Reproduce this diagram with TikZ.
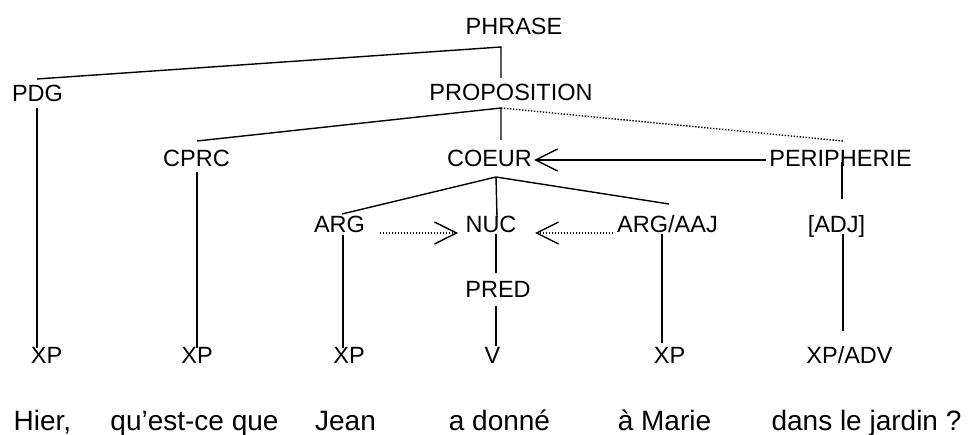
\documentclass[tikz,border=0pt]{standalone}
\usepackage{fontspec}
\setmainfont{Liberation Sans}
\usetikzlibrary{arrows.meta}
\tikzset{
  lab/.style={anchor=base, inner sep=0pt, outer sep=0pt, font=\fontsize{23.5}{28}\selectfont},
  word/.style={anchor=base, inner sep=0pt, outer sep=0pt, font=\fontsize{28}{34}\selectfont},
  branch/.style={line width=1.4pt},
  stem/.style={line width=1.3pt},
  dots/.style={line width=1.4pt, dash pattern=on 1.4pt off 1.6pt},
  barb/.style={-{Straight Barb[length=22pt,width=22pt]}},
}
\begin{document}
\begin{tikzpicture}[x=1pt,y=-1pt]
\useasboundingbox (0,0) rectangle (969,435);
% labels
\node[lab] (phrase) at (514,35) {PHRASE};
\node[lab] (pdg) at (37.5,102) {PDG};
\node[lab] (prop) at (511,101) {PROPOSITION};
\node[lab] (cprc) at (196.5,167) {CPRC};
\node[lab] (coeur) at (489.5,167) {COEUR};
\node[lab] (peri) at (840.5,167) {PERIPHERIE};
\node[lab] (arg) at (339.5,233) {ARG};
\node[lab] (nuc) at (491,233) {NUC};
\node[lab] (argaaj) at (667.5,233) {ARG/AAJ};
\node[lab] (adj) at (836.5,233) {[ADJ]};
\node[lab] (pred) at (498,298) {PRED};
\node[lab] (xpa) at (46.5,364) {XP};
\node[lab] (xpb) at (197,364) {XP};
\node[lab] (xpc) at (349,364) {XP};
\node[lab] (v) at (492.5,364) {V};
\node[lab] (xpd) at (669.5,364) {XP};
\node[lab] (xpadv) at (849.5,364) {XP/ADV};
% words
\node[word] (w1) at (42.5,430) {Hier,};
\node[word] (w2) at (194.5,430) {qu’est-ce que};
\node[word] (w3) at (345.5,430) {Jean};
\node[word] (w4) at (499.5,430) {a donné};
\node[word] (w5) at (664.5,430) {à Marie};
\node[word] (w6) at (866.5,430) {dans le jardin ?};
% junction coordinates
\coordinate (jphrase) at (501,47);
\coordinate (pdgtop) at (37,79);
\coordinate (proptop) at (501,78);
\coordinate (jprop) at (501,108);
\coordinate (cprctop) at (197,141);
\coordinate (coeurtop) at (501,140);
\coordinate (peritop) at (843,141);
\coordinate (jcoeur) at (496,177);
\coordinate (argtop) at (342,214);
\coordinate (nuctop) at (497,217);
\coordinate (argaajtop) at (669,204);
\coordinate (pdgbot) at (37,108);
\coordinate (xpatop) at (37,348);
\coordinate (cprcbot) at (197,172);
\coordinate (xpbtop) at (197,348);
\coordinate (argbot) at (343,235);
\coordinate (xpctop) at (343,348);
\coordinate (nucbot) at (496,234);
\coordinate (predtop) at (496,273);
\coordinate (predbot) at (496,306);
\coordinate (vtop) at (496,346);
\coordinate (argaajbot) at (662,234);
\coordinate (xpdtop) at (662,343);
\coordinate (peribot) at (842,162);
\coordinate (adjtop) at (842,199);
\coordinate (adjbot) at (843,234);
\coordinate (xpadvtop) at (843,331);
\coordinate (perileft) at (766,160);
\coordinate (coeurright) at (534,160);
\coordinate (argright) at (380,233);
\coordinate (nucleft) at (458,233);
\coordinate (argaajleft) at (613,233);
\coordinate (nucright) at (535,233);
% tree branches
\draw[branch] (pdgtop) -- (jphrase) -- (proptop);
\draw[branch] (cprctop) -- (jprop) -- (coeurtop);
\draw[dots] (jprop) -- (peritop);
\draw[branch] (argtop) -- (jcoeur) -- (argaajtop);
\draw[branch] (jcoeur) -- (nuctop);
% stems
\draw[stem] (pdgbot) -- (xpatop);
\draw[stem] (cprcbot) -- (xpbtop);
\draw[stem] (argbot) -- (xpctop);
\draw[stem] (nucbot) -- (predtop);
\draw[stem] (predbot) -- (vtop);
\draw[stem] (argaajbot) -- (xpdtop);
\draw[stem] (peribot) -- (adjtop);
\draw[stem] (adjbot) -- (xpadvtop);
% arrows
\draw[branch,barb] (perileft) -- (coeurright);
\draw[dots,barb] (argright) -- (nucleft);
\draw[dots,barb] (argaajleft) -- (nucright);
\end{tikzpicture}
\end{document}
